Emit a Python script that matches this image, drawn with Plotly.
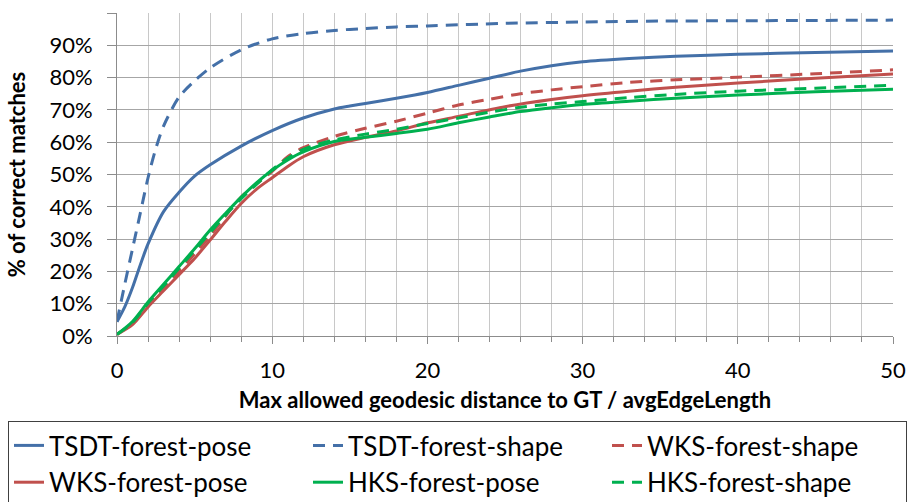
import plotly.graph_objects as go

# ---- data ----
tsdt_pose_x = [0, 0.5, 1, 1.5, 2, 3, 4, 5, 6, 8, 10, 12, 14, 15, 16, 18, 20, 22, 24, 26, 28, 30, 33, 36, 40, 45, 50]
tsdt_pose_y = [4.4, 9, 15, 22, 28.5, 38.5, 44.5, 49.5, 53, 58.8, 63.6, 67.5, 70.3, 71.2, 72.0, 73.6, 75.4, 77.6, 79.8, 82, 83.7, 84.9, 85.9, 86.6, 87.2, 87.8, 88.2]

tsdt_shape_x = [0, 0.5, 1, 1.5, 2, 2.5, 3, 4, 5, 6, 8, 10, 12, 14, 16, 18, 20, 25, 30, 35, 40, 45, 50]
tsdt_shape_y = [4.5, 16, 27, 38, 49, 58, 65, 74, 79, 83, 88.6, 92, 93.6, 94.6, 95.2, 95.7, 96.0, 96.8, 97.2, 97.5, 97.6, 97.7, 97.8]

wks_pose_x = [0, 1, 2, 3, 4, 5, 6, 7, 8, 9, 10, 11, 12, 14, 16, 18, 20, 22, 25, 28, 30, 33, 36, 40, 45, 50]
wks_pose_y = [0.5, 3.5, 9, 14, 19, 24, 29.7, 35.5, 41, 45.5, 49, 52.5, 55.5, 59.2, 61.5, 63.5, 66, 68, 71, 73.2, 74.4, 75.8, 77, 78.3, 79.8, 81.1]

wks_shape_x = [0, 1, 2, 4, 6, 8, 10, 11, 12, 14, 16, 18, 20, 22, 24, 26, 28, 30, 33, 36, 40, 45, 50]
wks_shape_y = [0.5, 4, 10, 20, 31, 43, 51, 55.5, 58.3, 61.8, 64.3, 66.5, 69, 71.5, 73.3, 75, 76.2, 77.2, 78.5, 79.3, 80.1, 81.2, 82.4]

hks_pose_x = [0, 1, 2, 3, 4, 5, 6, 7, 8, 9, 10, 11, 12, 14, 16, 18, 20, 22, 24, 26, 28, 30, 33, 36, 40, 45, 50]
hks_pose_y = [0.5, 4.5, 10.5, 16, 21.5, 27, 32.8, 38, 43, 47.5, 51.3, 54.5, 57, 60.2, 61.5, 62.7, 64, 66, 67.8, 69.5, 70.7, 71.7, 72.7, 73.6, 74.6, 75.6, 76.4]

hks_shape_x = [0, 1, 2, 3, 4, 5, 6, 7, 8, 9, 10, 11, 12, 14, 16, 18, 20, 22, 24, 26, 28, 30, 33, 36, 40, 45, 50]
hks_shape_y = [0.5, 4.2, 10.2, 15.5, 21, 26.5, 32, 37.5, 42.5, 47, 51.5, 55, 57.8, 60.7, 62.5, 64, 65.8, 67.5, 69.3, 70.8, 71.8, 72.6, 73.8, 74.8, 75.8, 76.7, 77.6]

y_tick_vals = [0, 10, 20, 30, 40, 50, 60, 70, 80, 90, 100]
y_tick_text = [f"{v}%" for v in y_tick_vals]
x_tick_vals = [0, 10, 20, 30, 40, 50]

BLUE = "#4470a8"
RED = "#c0504d"
GREEN = "#00b04f"
DASH = "12px,8px"
FONT = "Lato, 'Open Sans', sans-serif"

series = [
    ("TSDT-forest-pose", tsdt_pose_x, tsdt_pose_y, BLUE, "solid", 1),
    ("TSDT-forest-shape", tsdt_shape_x, tsdt_shape_y, BLUE, DASH, 2),
    ("WKS-forest-shape", wks_shape_x, wks_shape_y, RED, DASH, 3),
    ("WKS-forest-pose", wks_pose_x, wks_pose_y, RED, "solid", 4),
    ("HKS-forest-pose", hks_pose_x, hks_pose_y, GREEN, "solid", 5),
    ("HKS-forest-shape", hks_shape_x, hks_shape_y, GREEN, DASH, 6),
]

fig = go.Figure()
for name, xs, ys, col, dash, rank in series:
    fig.add_trace(go.Scatter(
        x=xs, y=ys, name=name, mode="lines",
        line=dict(color=col, width=3, dash=dash, shape="spline", smoothing=0.8),
        legendrank=rank,
    ))

W, H = 908, 502
ml, mr, mt, mb = 117, 0, 13, 166
plot_right = 893
pw = W - ml - mr
ph = H - mt - mb

fig.update_layout(
    width=W, height=H,
    margin=dict(l=ml, r=mr, t=mt, b=mb, autoexpand=False),
    paper_bgcolor="white", plot_bgcolor="white",
    font=dict(family=FONT, color="#000000", size=22),
    showlegend=True,
    legend=dict(
        orientation="h",
        x=(8 - ml) / pw, xanchor="left",
        y=(mt + ph - 421) / ph, yanchor="top",
        bordercolor="#404040", borderwidth=1,
        font=dict(family=FONT, size=26, color="#000"),
        entrywidth=254, entrywidthmode="pixels",
        traceorder="normal",
    ),
    xaxis=dict(
        domain=[0, (plot_right - ml) / pw],
        range=[0, 50], tickvals=x_tick_vals,
        showgrid=True, gridcolor="#c8c8c8", gridwidth=1,
        ticks="outside", ticklen=7, tickcolor="#8c8c8c",
        showline=True, linecolor="#8c8c8c", linewidth=1,
        minor=dict(dtick=2, showgrid=True, gridcolor="#c8c8c8", ticks="outside", ticklen=5, tickcolor="#8c8c8c"),
        zeroline=False,
        tickfont=dict(size=22),
        ticklabelstandoff=8,
        title=dict(text="<b>Max allowed geodesic distance to GT / avgEdgeLength</b>", font=dict(size=22), standoff=10),
    ),
    yaxis=dict(
        range=[0, 100], tickvals=y_tick_vals, ticktext=y_tick_text,
        showgrid=True, gridcolor="#a6a6a6", gridwidth=1,
        ticks="outside", ticklen=9, tickcolor="#8c8c8c",
        showline=True, linecolor="#8c8c8c", linewidth=1,
        zeroline=False,
        tickfont=dict(size=22),
        ticklabelstandoff=10,
        title=dict(text="<b>% of correct matches</b>", font=dict(size=22), standoff=17),
    ),
)

fig.write_html("out.html")
